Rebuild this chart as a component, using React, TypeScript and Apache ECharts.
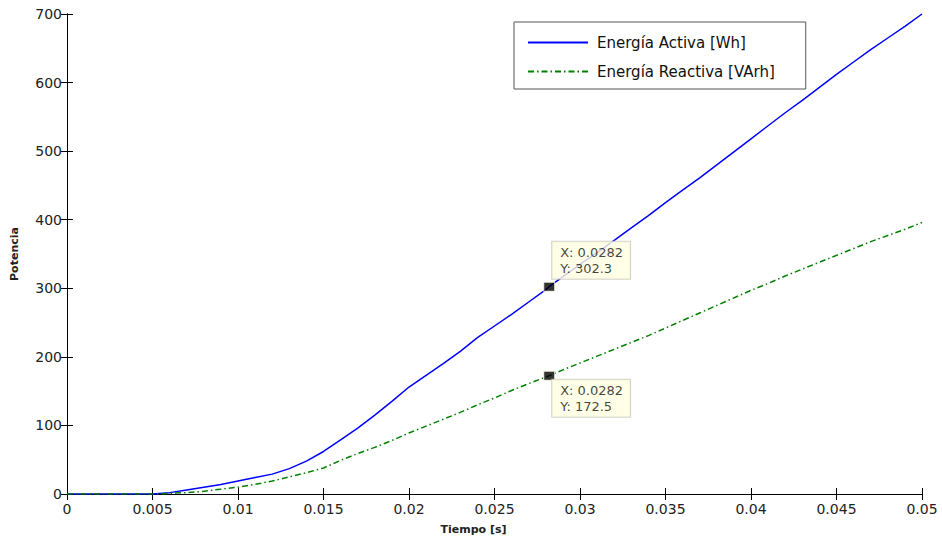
import React, { useEffect, useRef } from "react";
import * as echarts from "echarts";

const tiempo = [
  0, 0.001, 0.002, 0.003, 0.004, 0.005, 0.006, 0.007, 0.008, 0.009, 0.01,
  0.011, 0.012, 0.013, 0.014, 0.015, 0.016, 0.017, 0.018, 0.019, 0.02,
  0.021, 0.022, 0.023, 0.024, 0.025, 0.026, 0.027, 0.028, 0.0282, 0.029, 0.03,
  0.031, 0.032, 0.033, 0.034, 0.035, 0.036, 0.037, 0.038, 0.039, 0.04,
  0.041, 0.042, 0.043, 0.044, 0.045, 0.046, 0.047, 0.048, 0.049, 0.05,
];
const energiaActiva = [
  0, 0, 0, 0, 0, 0, 2, 6, 10, 14, 19,
  24, 29, 37, 48, 62, 79, 96, 115, 135, 156,
  173, 190, 208, 228, 245, 262, 280, 298, 302.3, 317, 335,
  352, 370, 388, 406, 425, 443, 461, 480, 499, 518,
  537, 556, 574, 593, 612, 630, 648, 665, 682, 700,
];
const energiaReactiva = [
  0, 0, 0, 0, 0, 0, 1, 2, 4, 7, 10,
  14, 19, 25, 31, 38, 49, 59, 68, 78, 89,
  99, 109, 119, 130, 140, 151, 161, 170.5, 172.5, 181, 191,
  201, 211, 221, 231, 242, 253, 264, 275, 286, 297,
  307, 318, 328, 338, 348, 358, 368, 377, 386, 396,
];
const seriesNames = ["Energía Activa [Wh]", "Energía Reactiva [VArh]"];
const dataTipX = 0.0282;
const dataTipActiva = 302.3;
const dataTipReactiva = 172.5;
const dataTipTexts = ["X: 0.0282\nY: 302.3", "X: 0.0282\nY: 172.5"];

const FONT = "DejaVu Sans";

export default function App() {
  const ref = useRef<HTMLDivElement>(null);
  useEffect(() => {
    if (!ref.current) return;
    const chart = echarts.init(ref.current, null, { renderer: "svg" });
    const fmtX = (v: number) => String(parseFloat(v.toFixed(4)));
    const tipLabel = (pos: number[], text: string) => ({
      show: true,
      position: pos,
      formatter: () => text,
      backgroundColor: "#ffffe1",
      borderColor: "#c9c9c0",
      borderWidth: 1,
      padding: [3, 7, 2, 8],
      color: "#111",
      fontFamily: FONT,
      fontSize: 13,
      lineHeight: 16,
      align: "left",
      verticalAlign: "top",
    });
    const axisCommon = {
      type: "value",
      splitLine: { show: false },
      axisLine: { show: true, lineStyle: { color: "#000", width: 1 } },
      axisTick: { show: true, inside: true, length: 6, lineStyle: { color: "#000" } },
    };
    chart.setOption({
      animation: false,
      backgroundColor: "#fff",
      grid: { left: 67, right: 20, top: 14, bottom: 43, show: false },
      legend: {
        left: 514,
        top: 22,
        orient: "vertical",
        data: seriesNames,
        itemWidth: 60,
        itemHeight: 14,
        itemGap: 14,
        padding: [13, 31, 10, 13],
        backgroundColor: "#fff",
        borderColor: "#555",
        borderWidth: 1,
        itemStyle: { opacity: 0 },
        textStyle: { fontFamily: FONT, fontSize: 15, color: "#111", padding: [0, 0, 0, 4] },
      },
      xAxis: [
        {
          ...axisCommon,
          min: 0,
          max: 0.05,
          interval: 0.005,
          position: "bottom",
          name: "Tiempo [s]",
          nameLocation: "middle",
          nameGap: 30,
          nameTextStyle: { fontFamily: FONT, fontSize: 11, fontWeight: "bold", color: "#222", padding: [0, 42, 0, 0] },
          axisLabel: { fontFamily: FONT, fontSize: 14, color: "#222", margin: 8, formatter: fmtX },
        },
        {
          ...axisCommon,
          min: 0,
          max: 0.05,
          interval: 0.005,
          position: "top",
          axisLabel: { show: false },
        },
      ],
      yAxis: [
        {
          ...axisCommon,
          min: 0,
          max: 700,
          interval: 100,
          position: "left",
          name: "Potencia",
          nameLocation: "middle",
          nameGap: 47,
          nameTextStyle: { fontFamily: FONT, fontSize: 11, fontWeight: "bold", color: "#222", padding: [26, 0, 0, 0] },
          axisLabel: { fontFamily: FONT, fontSize: 14, color: "#222", margin: 5 },
        },
        {
          ...axisCommon,
          min: 0,
          max: 700,
          interval: 100,
          position: "right",
          axisLabel: { show: false },
        },
      ],
      series: [
        {
          name: seriesNames[0],
          type: "line",
          xAxisIndex: 0,
          yAxisIndex: 0,
          symbol: "none",
          data: tiempo.map((t, i) => [t, energiaActiva[i]]),
          lineStyle: { color: "#0000ff", width: 1.5 },
          itemStyle: { color: "#0000ff" },
          z: 2,
        },
        {
          name: seriesNames[1],
          type: "line",
          xAxisIndex: 0,
          yAxisIndex: 0,
          symbol: "none",
          data: tiempo.map((t, i) => [t, energiaReactiva[i]]),
          lineStyle: { color: "#008000", width: 1.5, type: [6, 3, 1.5, 3] },
          itemStyle: { color: "#008000" },
          z: 2,
        },
        {
          type: "scatter",
          xAxisIndex: 0,
          yAxisIndex: 0,
          symbol: "rect",
          symbolSize: [11, 9],
          itemStyle: { color: "#000", borderColor: "#ffffe1", borderWidth: 1 },
          data: [
            { value: [dataTipX, dataTipActiva], label: tipLabel([9, -40], dataTipTexts[0]) },
            { value: [dataTipX, dataTipReactiva], label: tipLabel([9, 9], dataTipTexts[1]) },
          ],
          z: 5,
          silent: true,
        },
      ],
    });
    return () => chart.dispose();
  }, []);
  return (
    <div
      ref={ref}
      style={{ position: "fixed", left: 0, top: 0, width: 942, height: 540, background: "#fff" }}
    />
  );
}
